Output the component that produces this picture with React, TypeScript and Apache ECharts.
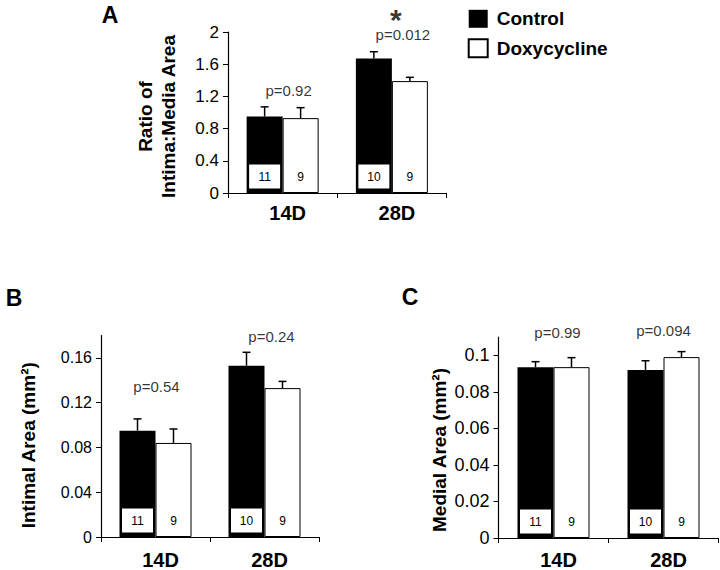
import React, { useEffect, useRef } from "react";
import * as echarts from "echarts";

// ---------- data ----------
const categories = ["14D", "28D"];
const seriesNames = ["Control", "Doxycycline"];

// Panel A: ratio of intima:media area
const ratioControl = [0.95, 1.67];
const ratioControlErr = [0.12, 0.085];
const ratioDoxy = [0.93, 1.39];
const ratioDoxyErr = [0.13, 0.047];

// Panel B: intimal area (mm²)
const intimaControl = [0.095, 0.153];
const intimaControlErr = [0.0105, 0.012];
const intimaDoxy = [0.084, 0.133];
const intimaDoxyErr = [0.0125, 0.006];

// Panel C: medial area (mm²)
const mediaControl = [0.0935, 0.092];
const mediaControlErr = [0.003, 0.005];
const mediaDoxy = [0.0935, 0.099];
const mediaDoxyErr = [0.0052, 0.003];

// sample sizes
const nControl = [11, 10];
const nDoxy = [9, 9];

// p-values
const pA = ["p=0.92", "p=0.012"];
const pB = ["p=0.54", "p=0.24"];
const pC = ["p=0.99", "p=0.094"];

// tick labels
const yTicksA = [0, 0.4, 0.8, 1.2, 1.6, 2];
const yTicksB = [0, 0.04, 0.08, 0.12, 0.16];
const yTicksC = [0, 0.02, 0.04, 0.06, 0.08, 0.1];

// ---------- layout ----------
const BAR_W = 36;
const CAP = 4;
const FONT = "Liberation Sans, Arial, Helvetica, sans-serif";

const panels = [
  {
    grid: { left: 228, top: 32, width: 218.5, height: 161 },
    max: 2, interval: 0.4, ticks: yTicksA, tickFont: 17,
    name: "Ratio of\nIntima:Media Area", nameGap: 48, namePad: 8,
    control: ratioControl, controlErr: ratioControlErr,
    doxy: ratioDoxy, doxyErr: ratioDoxyErr,
    p: pA, pPos: [[1.27, 6], [1.963, 11]], xMargin: 10,
  },
  {
    grid: { left: 101, top: 335.5, width: 218, height: 202.5 },
    max: 0.18, interval: 0.04, ticks: yTicksB, tickFont: 16,
    name: "Intimal Area (mm²)", nameGap: 61, namePad: 18,
    control: intimaControl, controlErr: intimaControlErr,
    doxy: intimaDoxy, doxyErr: intimaDoxyErr,
    p: pB, pPos: [[0.134, 1], [0.179, 7]], xMargin: 13,
  },
  {
    grid: { left: 498.5, top: 337, width: 220, height: 202.5 },
    max: 0.11, interval: 0.02, ticks: yTicksC, tickFont: 18,
    name: "Medial Area (mm²)", nameGap: 47, namePad: 25,
    control: mediaControl, controlErr: mediaControlErr,
    doxy: mediaDoxy, doxyErr: mediaDoxyErr,
    p: pC, pPos: [[0.1123, 4], [0.1138, 0]], xMargin: 12,
  },
];

function fmt(v: number) {
  return String(parseFloat(Number(v).toFixed(3)));
}

function errorSeries(gi: number, means: number[], errs: number[], side: number) {
  return {
    type: "custom",
    xAxisIndex: gi,
    yAxisIndex: gi,
    z: 5,
    clip: false,
    silent: true,
    data: means.map((m, i) => [i, m, errs[i]]),
    encode: { x: 0, y: 1 },
    renderItem: (params: any, api: any) => {
      const i = api.value(0);
      const m = api.value(1);
      const e = api.value(2);
      const p0 = api.coord([i, m]);
      const p1 = api.coord([i, m + e]);
      const x = p0[0] + (side * BAR_W) / 2;
      return {
        type: "group",
        children: [
          { type: "line", shape: { x1: x, y1: p0[1], x2: x, y2: p1[1] }, style: { stroke: "#000", lineWidth: 1.5 } },
          { type: "line", shape: { x1: x - CAP, y1: p1[1], x2: x + CAP, y2: p1[1] }, style: { stroke: "#000", lineWidth: 1.5 } },
        ],
      };
    },
  };
}

const plainLabel = {
  color: "#000",
  fontFamily: FONT,
  textBorderWidth: 0,
  textBorderColor: "transparent",
  textShadowBlur: 0,
};

function buildOption() {
  const grid: any[] = [];
  const xAxis: any[] = [];
  const yAxis: any[] = [];
  const series: any[] = [];

  panels.forEach((pn, gi) => {
    grid.push({ ...pn.grid, containLabel: false });
    xAxis.push({
      type: "category",
      gridIndex: gi,
      data: categories,
      axisLine: { show: true, lineStyle: { color: "#000", width: 1.2 } },
      axisTick: { show: true, length: 5, alignWithLabel: false, lineStyle: { color: "#000" } },
      axisLabel: {
        fontSize: 20, fontWeight: "bold", color: "#000", fontFamily: FONT,
        margin: pn.xMargin, padding: [0, 0, 0, 10],
      },
      splitLine: { show: false },
    });
    yAxis.push({
      type: "value",
      gridIndex: gi,
      min: 0,
      max: pn.max,
      interval: pn.interval,
      axisLine: { show: true, lineStyle: { color: "#000", width: 1.2 } },
      axisTick: { show: true, length: 5, lineStyle: { color: "#000" }, customValues: pn.ticks },
      axisLabel: {
        customValues: pn.ticks, fontSize: pn.tickFont, color: "#000", fontFamily: FONT,
        margin: 9, formatter: (v: number) => fmt(v),
      },
      splitLine: { show: false },
      name: pn.name,
      nameLocation: "middle",
      nameRotate: 90,
      nameGap: pn.nameGap,
      nameTextStyle: {
        fontSize: 19, fontWeight: "bold", color: "#000", fontFamily: FONT,
        lineHeight: 23, padding: [0, pn.namePad, 0, 0],
      },
    });

    series.push({
      type: "bar",
      name: seriesNames[0],
      xAxisIndex: gi,
      yAxisIndex: gi,
      data: pn.control,
      barWidth: BAR_W,
      barGap: "0%",
      itemStyle: { color: "#000", borderColor: "#000", borderWidth: 0 },
      label: {
        ...plainLabel,
        show: true,
        position: "insideBottom",
        distance: 4.5,
        formatter: (p: any) => String(nControl[p.dataIndex]),
        backgroundColor: "#fff",
        width: 31,
        height: 24,
        lineHeight: 24,
        align: "center",
        fontSize: 12,
      },
    });
    series.push({
      type: "bar",
      name: seriesNames[1],
      xAxisIndex: gi,
      yAxisIndex: gi,
      data: pn.doxy,
      barWidth: BAR_W,
      barGap: "0%",
      itemStyle: { color: "#fff", borderColor: "#000", borderWidth: 1 },
      label: {
        ...plainLabel,
        show: true,
        position: "insideBottom",
        distance: 4.5,
        formatter: (p: any) => String(nDoxy[p.dataIndex]),
        height: 24,
        lineHeight: 24,
        fontSize: 12,
      },
    });
    series.push(errorSeries(gi, pn.control, pn.controlErr, -1));
    series.push(errorSeries(gi, pn.doxy, pn.doxyErr, 1));
    series.push({
      type: "scatter",
      xAxisIndex: gi,
      yAxisIndex: gi,
      symbolSize: 0,
      clip: false,
      silent: true,
      z: 6,
      itemStyle: { color: "#000" },
      data: pn.p.map((t, i) => ({
        value: [i, pn.pPos[i][0]],
        label: { offset: [pn.pPos[i][1], 0] },
      })),
      label: {
        ...plainLabel,
        show: true,
        position: "inside",
        formatter: (p: any) => pn.p[p.dataIndex],
        fontSize: 15,
      },
    });
  });

  // significance star for panel A, 28D
  series.push({
    type: "scatter",
    xAxisIndex: 0,
    yAxisIndex: 0,
    symbolSize: 0,
    clip: false,
    silent: true,
    z: 6,
    itemStyle: { color: "#000" },
    data: [{ value: [1, 2.16], label: { offset: [4, 0] } }],
    label: {
      ...plainLabel,
      show: true,
      position: "inside",
      formatter: "*",
      fontSize: 30,
      lineHeight: 12,
      fontWeight: "bold",
    },
  });

  return {
    animation: false,
    backgroundColor: "#fff",
    textStyle: { fontFamily: FONT, color: "#000" },
    legend: {
      show: true,
      data: seriesNames,
      orient: "vertical",
      left: 467.7,
      top: 9.3,
      padding: 0,
      itemWidth: 19,
      itemHeight: 18,
      itemGap: 10,
      icon: "rect",
      selectedMode: false,
      textStyle: { fontSize: 19, fontWeight: "bold", color: "#000", fontFamily: FONT, padding: [0, 0, 0, 4] },
    },
    grid,
    xAxis,
    yAxis,
    series,
    graphic: [
      { type: "text", x: 110, y: 15, style: { text: "A", fontSize: 23, fontWeight: "bold", fill: "#000", align: "center", verticalAlign: "middle", fontFamily: FONT } },
      { type: "text", x: 14, y: 298, style: { text: "B", fontSize: 23, fontWeight: "bold", fill: "#000", align: "center", verticalAlign: "middle", fontFamily: FONT } },
      { type: "text", x: 410, y: 297, style: { text: "C", fontSize: 23, fontWeight: "bold", fill: "#000", align: "center", verticalAlign: "middle", fontFamily: FONT } },
    ],
  };
}

export default function App() {
  const ref = useRef<HTMLDivElement>(null);
  useEffect(() => {
    if (!ref.current) return;
    const chart = echarts.init(ref.current, undefined, { renderer: "svg" });
    chart.setOption(buildOption() as any);
    return () => chart.dispose();
  }, []);
  return (
    <div
      ref={ref}
      style={{ position: "absolute", left: 0, top: 0, width: 720, height: 570, background: "#fff" }}
    />
  );
}
